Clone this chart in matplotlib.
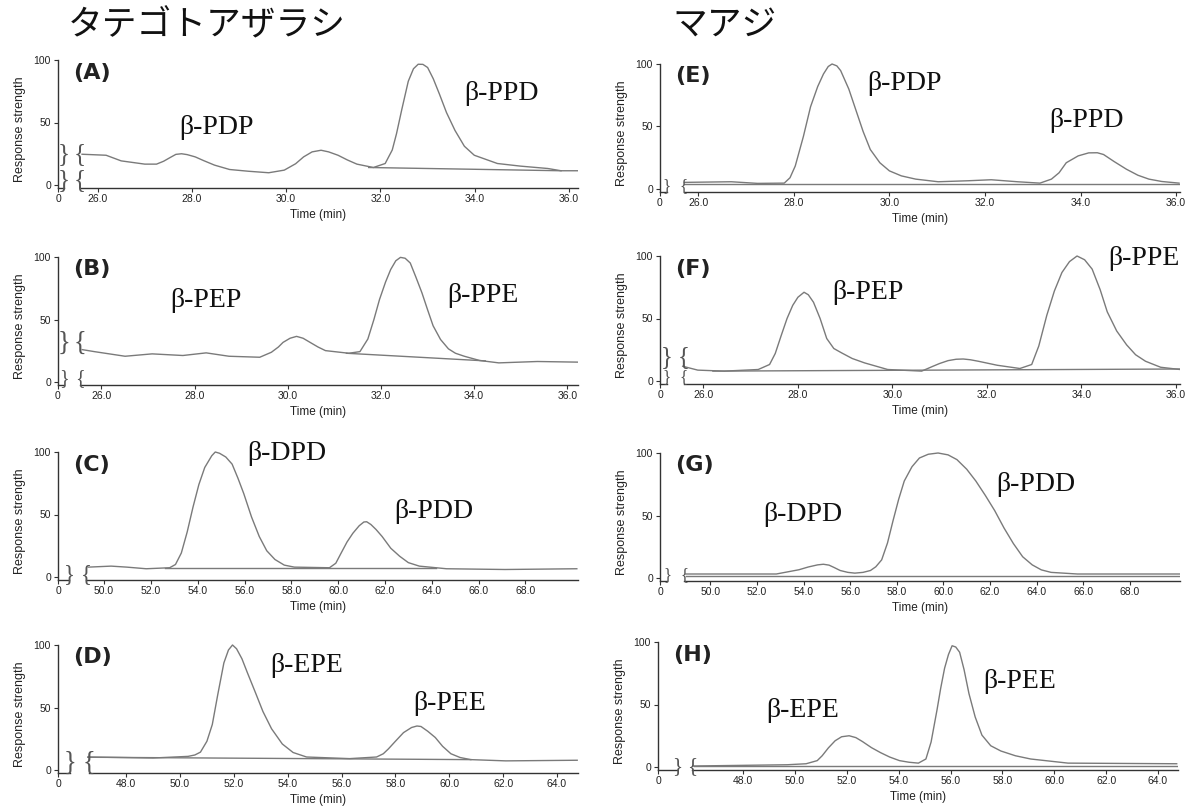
import matplotlib
matplotlib.use("Agg")
import matplotlib.pyplot as plt

# ---- data (time in min, response 0-100) ----
A_t = [25.67, 26.18, 26.5, 27.0, 27.25, 27.4, 27.54, 27.66, 27.78, 27.9, 28.07, 28.25,
       28.48, 28.8, 29.2, 29.63, 29.96, 30.2, 30.37, 30.55, 30.74, 30.9, 31.1, 31.3,
       31.5, 31.85, 32.1, 32.25, 32.34, 32.45, 32.59, 32.7, 32.8, 32.9, 33.0, 33.12,
       33.25, 33.4, 33.58, 33.78, 33.99, 34.48, 34.97, 35.55, 35.83, 36.19]
A_y = [24.6, 23.8, 19.3, 16.7, 16.7, 19.0, 22.0, 24.5, 25.0, 24.3, 22.5, 19.5,
       15.9, 12.4, 11.0, 9.8, 11.9, 17.0, 22.5, 26.5, 27.8, 26.5, 23.8, 20.0,
       16.7, 14.0, 17.2, 28.0, 41.0, 60.0, 83.0, 93.0, 96.6, 96.5, 94.0, 85.0,
       72.8, 58.0, 43.7, 31.0, 23.8, 17.2, 15.1, 13.2, 11.4, 11.4]
A_base_t = [31.75, 35.83]
A_base_y = [14.0, 11.4]

B_t = [25.59, 25.85, 26.51, 27.09, 27.75, 28.25, 28.74, 29.4, 29.65, 29.8, 29.9, 30.05,
       30.19, 30.33, 30.48, 30.65, 30.81, 31.31, 31.55, 31.72, 31.85, 31.97, 32.1, 32.21,
       32.32, 32.42, 32.52, 32.63, 32.75, 32.88, 33.0, 33.12, 33.28, 33.45, 33.6, 33.79,
       34.12, 34.53, 35.36, 36.22]
B_y = [25.9, 24.3, 20.6, 22.5, 21.2, 23.3, 20.6, 19.8, 23.8, 28.0, 31.7, 35.0,
       36.5, 35.0, 31.7, 28.0, 25.1, 23.0, 24.3, 34.4, 50.0, 66.0, 80.0, 90.0,
       97.0, 99.7, 99.0, 95.2, 84.0, 71.4, 58.0, 45.0, 34.0, 26.5, 23.0, 20.6,
       17.2, 15.3, 16.4, 15.9]
B_base_t = [31.26, 34.24]
B_base_y = [23.0, 16.9]

C_t = [49.33, 50.3, 50.97, 51.8, 52.8, 53.05, 53.3, 53.55, 53.8, 54.05, 54.3, 54.6,
       54.75, 54.93, 55.2, 55.47, 55.72, 55.97, 56.3, 56.63, 56.95, 57.3, 57.7, 58.13,
       59.63, 59.9, 60.13, 60.38, 60.63, 60.9, 61.1, 61.22, 61.4, 61.62, 61.88, 62.25,
       62.63, 63.0, 63.47, 64.63, 67.13, 70.2]
C_y = [7.9, 8.7, 7.9, 6.6, 7.4, 10.0, 19.2, 36.0, 56.0, 74.0, 87.6, 97.0,
       100.0, 99.0, 96.0, 90.3, 79.0, 66.6, 48.0, 32.4, 21.0, 14.0, 9.5, 7.9,
       7.4, 11.0, 19.2, 28.0, 35.0, 41.0, 44.0, 44.2, 42.0, 38.0, 32.4, 23.0,
       16.6, 11.5, 8.7, 6.6, 6.0, 6.6]
C_base_t = [52.6, 64.2]
C_base_y = [7.4, 7.4]

D_t = [46.58, 49.0, 50.3, 50.55, 50.76, 51.0, 51.2, 51.4, 51.63, 51.8, 51.95, 52.1,
       52.3, 52.5, 52.8, 53.08, 53.4, 53.8, 54.2, 54.7, 56.3, 57.3, 57.55, 57.74,
       58.0, 58.3, 58.6, 58.8, 58.95, 59.2, 59.48, 59.75, 60.06, 60.4, 60.8, 62.1,
       64.75]
D_y = [10.4, 9.6, 10.9, 12.0, 14.3, 23.0, 36.4, 60.0, 85.7, 96.0, 100.0, 97.0,
       89.0, 78.0, 62.0, 46.8, 33.0, 20.8, 14.0, 10.4, 9.1, 10.4, 13.0, 16.9,
       23.0, 29.9, 34.0, 35.2, 34.8, 31.0, 26.0, 19.0, 13.0, 10.0, 8.3, 7.3,
       7.8]
D_base_t = [46.58, 60.8]
D_base_y = [10.2, 8.3]

E_t = [25.71, 26.69, 27.24, 27.8, 27.92, 28.03, 28.2, 28.35, 28.5, 28.62, 28.72, 28.8,
       28.9, 28.98, 29.15, 29.3, 29.45, 29.6, 29.8, 30.0, 30.25, 30.55, 31.02, 31.65,
       32.13, 32.68, 33.15, 33.39, 33.55, 33.7, 33.95, 34.17, 34.35, 34.48, 34.7, 34.96,
       35.2, 35.43, 35.7, 36.06]
E_y = [5.3, 5.8, 4.5, 4.7, 9.0, 18.4, 42.0, 65.8, 82.0, 92.0, 98.0, 100.0,
       98.5, 94.7, 80.0, 63.0, 46.0, 31.6, 21.0, 14.5, 10.5, 7.9, 5.8, 6.6,
       7.4, 5.8, 4.7, 7.9, 13.0, 21.0, 26.5, 28.9, 29.0, 27.6, 22.0, 15.8,
       11.0, 7.9, 6.0, 4.7]
E_base_t = [25.71, 36.06]
E_base_y = [4.4, 4.4]

F_t = [25.56, 25.88, 26.44, 27.16, 27.4, 27.52, 27.65, 27.77, 27.89, 28.0, 28.13, 28.22,
       28.33, 28.47, 28.61, 28.76, 28.93, 29.15, 29.41, 29.9, 30.62, 30.86, 31.0, 31.18,
       31.35, 31.5, 31.65, 31.82, 32.22, 32.7, 32.95, 33.1, 33.27, 33.43, 33.59, 33.75,
       33.91, 34.07, 34.23, 34.4, 34.55, 34.75, 34.96, 35.15, 35.36, 35.68, 36.09]
F_y = [11.8, 8.7, 7.9, 9.2, 13.2, 22.0, 36.8, 50.0, 60.5, 67.0, 71.0, 69.0,
       63.0, 50.0, 34.0, 26.0, 22.4, 18.0, 14.5, 9.2, 7.9, 11.8, 14.0, 16.3,
       17.4, 17.6, 17.0, 15.8, 12.6, 10.0, 13.2, 28.0, 52.6, 72.0, 86.8, 95.5,
       100.0, 97.0, 89.5, 73.0, 55.3, 40.0, 28.9, 21.0, 15.8, 11.0, 9.2]
F_base_t = [26.2, 36.09]
F_base_y = [7.9, 9.6]

G_t = [48.95, 52.83, 53.8, 54.2, 54.6, 54.85, 55.09, 55.3, 55.57, 55.9, 56.2, 56.55,
       56.87, 57.1, 57.35, 57.6, 57.84, 58.08, 58.32, 58.65, 58.97, 59.35, 59.77, 60.2,
       60.58, 61.0, 61.39, 61.8, 62.2, 62.6, 63.0, 63.4, 63.81, 64.2, 64.62, 65.75,
       70.15]
G_y = [3.2, 3.2, 6.6, 8.8, 10.5, 11.0, 10.3, 8.5, 6.0, 4.5, 3.9, 4.5,
       6.0, 9.0, 14.5, 28.0, 46.0, 63.0, 77.6, 89.0, 96.0, 99.0, 100.0, 98.5,
       94.7, 87.0, 77.6, 66.0, 53.9, 40.0, 27.6, 17.0, 10.5, 6.5, 4.5, 3.2,
       3.2]
G_base_t = [48.95, 70.15]
G_base_y = [1.6, 1.6]

H_t = [46.09, 49.7, 50.43, 50.86, 51.05, 51.29, 51.55, 51.8, 52.09, 52.35, 52.6, 52.95,
       53.3, 53.65, 54.03, 54.4, 54.76, 55.05, 55.25, 55.48, 55.62, 55.77, 55.92, 56.06,
       56.2, 56.35, 56.52, 56.71, 56.95, 57.21, 57.55, 57.94, 58.5, 59.09, 60.53, 64.72]
H_y = [0.8, 1.8, 2.6, 5.1, 9.0, 15.3, 21.0, 24.2, 25.0, 23.5, 20.4, 15.5,
       11.5, 8.0, 5.1, 3.8, 3.1, 6.4, 20.0, 45.9, 63.0, 79.0, 90.0, 97.0,
       96.0, 91.8, 78.0, 58.7, 40.0, 25.5, 17.0, 12.8, 9.0, 6.4, 3.1, 2.6]
H_base_t = [46.09, 64.72]
H_base_y = [0.8, 0.8]

# peak names and where they are written
A_peaks = [("β-PDP", 28.52, 46), ("β-PPD", 34.56, 73)]
B_peaks = [("β-PEP", 28.25, 65), ("β-PPE", 34.2, 69)]
C_peaks = [("β-DPD", 57.8, 99), ("β-PDD", 64.1, 52)]
D_peaks = [("β-EPE", 54.69, 84), ("β-PEE", 60.0, 53)]
E_peaks = [("β-PDP", 30.31, 84), ("β-PPD", 34.13, 55)]
F_peaks = [("β-PEP", 29.49, 71), ("β-PPE", 35.32, 98)]
G_peaks = [("β-DPD", 53.96, 51), ("β-PDD", 63.97, 75)]
H_peaks = [("β-EPE", 50.28, 45), ("β-PEE", 58.66, 68)]

A_ticks = [26, 28, 30, 32, 34, 36]
C_ticks = [50, 52, 54, 56, 58, 60, 62, 64, 66, 68]
D_ticks = [48, 50, 52, 54, 56, 58, 60, 62, 64]

titles = ["タテゴトアザラシ", "マアジ"]

# ---- layout ----
W, H = 1187, 810
fig = plt.figure(figsize=(W / 100, H / 100), dpi=100)

GREY = "#7a7a7a"
AXC = "#333333"

# name, data, x-range, ticks, left px, bottom px (y of -2), brace px offsets, brace rows
panels = [
    ("(A)", A_t, A_y, A_base_t, A_base_y, A_peaks, (25.16, 36.19), A_ticks, 58, 187.5, (6, 22), [(-2.6, 10.6), (18.5, 31.7)]),
    ("(B)", B_t, B_y, B_base_t, B_base_y, B_peaks, (25.07, 36.23), A_ticks, 58, 384.5, (6, 22), [(-2.6, 8.0), (24.0, 38.0)]),
    ("(C)", C_t, C_y, C_base_t, C_base_y, C_peaks, (48.03, 70.25), C_ticks, 58, 579.5, (11, 28), [(-4.0, 8.0)]),
    ("(D)", D_t, D_y, D_base_t, D_base_y, D_peaks, (45.47, 64.78), D_ticks, 58, 772.5, (12, 31), [(-2.0, 12.0)]),
    ("(E)", E_t, E_y, E_base_t, E_base_y, E_peaks, (25.2, 36.08), A_ticks, 660, 191.5, (7, 24), [(-2.6, 6.5)]),
    ("(F)", F_t, F_y, F_base_t, F_base_y, F_peaks, (25.08, 36.09), A_ticks, 660, 383.5, (7, 24), [(-1.5, 7.5), (13.0, 26.0)]),
    ("(G)", G_t, G_y, G_base_t, G_base_y, G_peaks, (47.84, 70.15), C_ticks, 660, 580.5, (7, 24), [(-2.0, 6.0)]),
    ("(H)", H_t, H_y, H_base_t, H_base_y, H_peaks, (44.72, 64.77), D_ticks, 658, 769.5, (19, 34), [(-5.0, 6.0)]),
]

AX_W = 520
AX_H = 128.75

for (lab, t, y, bt, by, peaks, xr, ticks, lpx, bpx, brace_px, brace_rows) in panels:
    ax = fig.add_axes([lpx / W, 1 - bpx / H, AX_W / W, AX_H / H])
    x0, x1 = xr
    ax.set_xlim(x0, x1)
    ax.set_ylim(-2, 101)
    per_px = (x1 - x0) / AX_W
    bl = x0 + brace_px[0] * per_px
    br = x0 + brace_px[1] * per_px

    ax.plot(t, y, color=GREY, lw=1.0)
    ax.plot(bt, by, color=GREY, lw=1.0)

    for s in ["top", "right"]:
        ax.spines[s].set_visible(False)
    for s in ["left", "bottom"]:
        ax.spines[s].set_color(AXC)
        ax.spines[s].set_linewidth(1.0)
    ax.spines["left"].set_bounds(-2, 100)
    ax.spines["bottom"].set_bounds(br, x1)
    # short stub of the x axis before the break
    ax.plot([x0, bl], [-2, -2], color=AXC, lw=1.0, clip_on=False)

    # break marks
    for (ylo, yhi) in brace_rows:
        ym = (ylo + yhi) / 2
        fs = max((yhi - ylo) * 1.25 * 1.1, 12)
        ax.text(bl, ym, "}", fontsize=fs, color="#555555", ha="center", va="center",
                family="Liberation Serif", clip_on=False)
        ax.text(br, ym, "{", fontsize=fs, color="#555555", ha="center", va="center",
                family="Liberation Serif", clip_on=False)

    ax.set_yticks([0, 50, 100])
    ax.set_xticks([x0] + ticks)
    ax.set_xticklabels(["0"] + ["%.1f" % v for v in ticks])
    ax.tick_params(axis="both", length=3, width=0.8, color=AXC, labelsize=7.5,
                   labelcolor="#222222", pad=2)
    for tl in ax.get_xticklabels() + ax.get_yticklabels():
        tl.set_family("Liberation Sans")

    ax.set_xlabel("Time (min)", fontsize=8.5, family="Liberation Sans", labelpad=3, color="#222222")
    ax.set_ylabel("Response strength", fontsize=9, family="Liberation Sans", color="#222222")
    ax.yaxis.set_label_coords(-0.062, 0.45)

    ax.text(0.029, 90, lab, transform=ax.get_yaxis_transform(), fontsize=16,
            fontweight="bold", family="DejaVu Sans", color="#222222", ha="left", va="center")

    for (name, px, py) in peaks:
        ax.text(px, py, name, fontsize=20, family="Liberation Serif",
                ha="center", va="center", color="#111111")

fig.text(68 / W, 1 - 35 / H, titles[0], fontsize=25, family=["Noto Sans CJK JP", "DejaVu Sans"],
         ha="left", va="baseline", color="#111111")
fig.text(672 / W, 1 - 35 / H, titles[1], fontsize=25, family=["Noto Sans CJK JP", "DejaVu Sans"],
         ha="left", va="baseline", color="#111111")

fig.savefig("out.png", dpi=100)
